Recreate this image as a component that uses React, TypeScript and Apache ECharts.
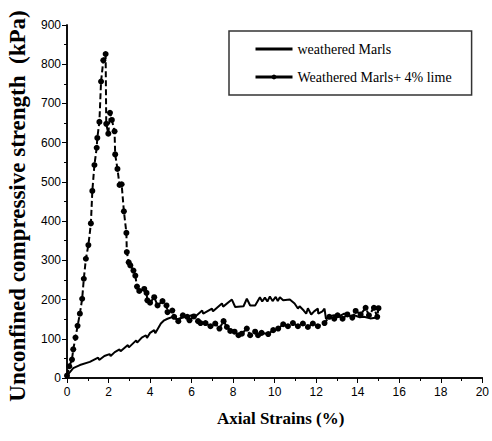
import React, { useEffect, useRef } from "react";
import * as echarts from "echarts";

const limeX = [0, 0.11, 0.24, 0.3, 0.41, 0.51, 0.62, 0.73, 0.81, 0.91, 1.03, 1.15, 1.22, 1.32, 1.43, 1.46, 1.56, 1.64, 1.75, 1.86, 1.89, 1.99, 2.07, 2.16, 2.29, 2.32, 2.43, 2.53, 2.63, 2.74, 2.86, 2.88, 2.97, 3.05, 3.2, 3.29, 3.37, 3.48, 3.72, 3.83, 3.87, 4.0, 4.2, 4.36, 4.6, 4.79, 4.84, 5.07, 5.16, 5.36, 5.58, 5.79, 5.9, 6.11, 6.31, 6.43, 6.67, 6.91, 7.14, 7.34, 7.54, 7.7, 7.86, 8.07, 8.26, 8.42, 8.66, 8.82, 9.06, 9.2, 9.37, 9.69, 9.93, 10.17, 10.41, 10.64, 10.88, 11.12, 11.36, 11.6, 11.84, 12.08, 12.4, 12.63, 12.87, 13.03, 13.27, 13.5, 13.74, 13.9, 14.14, 14.38, 14.54, 14.78, 14.94, 15.0];
const limeY = [6, 30, 47, 73, 103, 133, 164, 202, 253, 304, 339, 394, 477, 543, 587, 612, 653, 756, 810, 826, 648, 623, 676, 658, 629, 570, 533, 492, 494, 425, 370, 321, 295, 287, 274, 261, 233, 222, 227, 217, 198, 192, 206, 185, 196, 185, 168, 172, 156, 145, 160, 156, 147, 157, 145, 140, 140, 132, 139, 126, 145, 130, 120, 118, 109, 113, 126, 109, 118, 109, 115, 112, 122, 126, 137, 132, 140, 132, 139, 130, 139, 132, 140, 156, 151, 160, 151, 162, 154, 171, 162, 179, 160, 179, 156, 178];

const marlsX = [0, 0.3, 0.62, 1.1, 1.5, 1.55, 1.8, 2.05, 2.1, 2.3, 2.53, 2.58, 2.93, 2.98, 3.33, 3.38, 3.6, 3.8, 3.85, 4.0, 4.2, 4.25, 4.52, 4.68, 4.84, 5.16, 5.3, 5.71, 6.03, 6.1, 6.51, 6.56, 6.98, 7.03, 7.46, 7.52, 7.94, 8.1, 8.5, 8.66, 8.82, 9.06, 9.29, 9.4, 9.53, 9.65, 9.77, 9.9, 10.05, 10.15, 10.25, 10.41, 10.73, 10.96, 11.12, 11.2, 11.4, 11.52, 11.6, 11.76, 11.9, 12.08, 12.1, 12.3, 12.4, 12.47, 12.7, 12.87, 13.1, 13.35, 13.6, 13.83, 14.1, 14.3, 14.6, 14.94];
const marlsY = [6, 25, 33, 41, 52, 46, 56, 61, 56, 66, 73, 68, 84, 78, 96, 90, 103, 109, 102, 115, 122, 114, 139, 147, 151, 157, 150, 156, 160, 153, 172, 164, 177, 170, 190, 182, 200, 181, 183, 202, 185, 185, 206, 195, 205, 195, 208, 196, 207, 196, 206, 198, 200, 190, 177, 183, 172, 164, 178, 162, 170, 177, 164, 170, 177, 151, 158, 160, 157, 164, 158, 160, 155, 156, 152, 154];

const seriesNames = ["weathered Marls", "Weathered Marls+ 4% lime"];
const xTitle = "Axial Strains (%)";
const yTitle = "Unconfined compressive strength  (kPa)";

const pairs = (xs: number[], ys: number[]) => xs.map((x, i) => [x, ys[i]]);

const serif = "'Liberation Serif', 'Times New Roman', serif";

export default function App() {
  const ref = useRef<HTMLDivElement>(null);
  useEffect(() => {
    if (!ref.current) return;
    const chart = echarts.init(ref.current, null, { renderer: "svg" });
    const axisLine = { show: true, lineStyle: { color: "#000", width: 1.5 } };
    const labelFont = { color: "#000", fontSize: 12, fontFamily: "'Liberation Sans', Arial, sans-serif" };
    chart.setOption({
      animation: false,
      backgroundColor: "#fff",
      grid: { left: 67, right: 7, top: 25, bottom: 63, containLabel: false },
      legend: {
        orient: "vertical",
        left: 229,
        top: 31,
        padding: [11, 20, 11, 25],
        itemGap: 14,
        itemWidth: 37,
        itemHeight: 6,
        borderColor: "#333",
        borderWidth: 1.5,
        textStyle: { fontFamily: serif, fontSize: 14, color: "#000" },
        data: [
          { name: seriesNames[0], lineStyle: { width: 3 }, itemStyle: { opacity: 0 } },
          { name: seriesNames[1], lineStyle: { type: "solid", width: 3 } },
        ],
      },
      graphic: [
        {
          type: "text",
          x: 17,
          y: 206,
          rotation: Math.PI / 2,
          style: {
            text: yTitle,
            fontFamily: serif,
            fontWeight: "bold",
            fontSize: 23,
            fill: "#000",
            textAlign: "center",
            textVerticalAlign: "middle",
          },
        },
      ],
      xAxis: [
        {
          type: "value", min: 0, max: 20, interval: 2, position: "bottom",
          axisLine, axisTick: { show: true, length: 5, lineStyle: { color: "#000" } },
          minorTick: { show: true, splitNumber: 2, length: 3, lineStyle: { color: "#000" } },
          axisLabel: { ...labelFont, margin: 8 },
          splitLine: { show: false },
          name: xTitle, nameLocation: "middle", nameGap: 32,
          nameTextStyle: { fontFamily: serif, fontWeight: "bold", fontSize: 17, color: "#000", padding: [0, 0, 0, 12] },
        },
        {
          type: "value", min: 0, max: 20, interval: 2, position: "top",
          axisLine, axisTick: { show: true, inside: true, length: 4, lineStyle: { color: "#000" } },
          minorTick: { show: true, splitNumber: 2, length: 2, lineStyle: { color: "#000" } },
          axisLabel: { show: false }, splitLine: { show: false },
        },
      ],
      yAxis: [
        {
          type: "value", min: 0, max: 900, interval: 100, position: "left",
          axisLine, axisTick: { show: true, length: 5, lineStyle: { color: "#000" } },
          minorTick: { show: true, splitNumber: 2, length: 3, lineStyle: { color: "#000" } },
          axisLabel: { ...labelFont, margin: 6 },
          splitLine: { show: false },
        },
        {
          type: "value", min: 0, max: 900, interval: 100, position: "right",
          axisLine, axisTick: { show: true, inside: true, length: 4, lineStyle: { color: "#000" } },
          minorTick: { show: true, splitNumber: 2, length: 2, lineStyle: { color: "#000" } },
          axisLabel: { show: false }, splitLine: { show: false },
        },
      ],
      series: [
        {
          name: seriesNames[0], type: "line", data: pairs(marlsX, marlsY),
          showSymbol: false, symbol: "none",
          lineStyle: { color: "#000", width: 2 }, itemStyle: { color: "#000" },
        },
        {
          name: seriesNames[1], type: "line", data: pairs(limeX, limeY),
          symbol: "circle", symbolSize: 6,
          lineStyle: { color: "#000", width: 2, type: [6, 3] }, itemStyle: { color: "#000" },
        },
      ],
    });
    return () => chart.dispose();
  }, []);
  return <div ref={ref} style={{ position: "fixed", left: 0, top: 0, width: 492, height: 441, background: "#fff" }} />;
}
